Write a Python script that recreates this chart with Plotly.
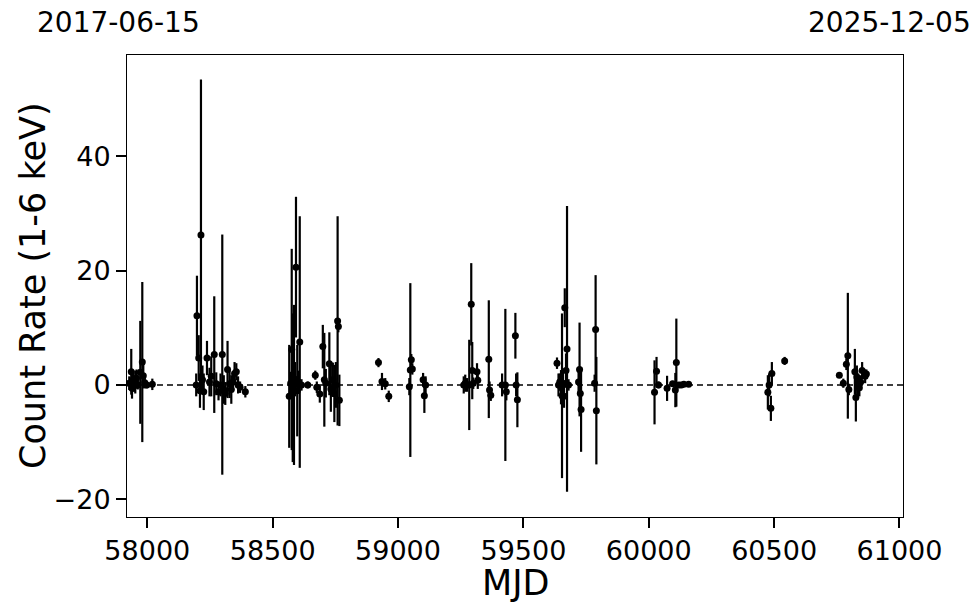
import plotly.graph_objects as go

mjd = [57928, 57936, 57939, 57943, 57947, 57952, 57957, 57962, 57972, 57980, 57984, 57990, 57998, 58020,
       58195, 58198, 58205, 58210, 58214, 58220, 58225, 58238, 58248, 58255, 58267, 58275, 58284, 58292,
       58299, 58305, 58311, 58320, 58328, 58335, 58342, 58348, 58355, 58362, 58370, 58391,
       58566, 58572, 58576, 58580, 58585, 58589, 58593, 58598, 58602, 58608, 58615, 58640, 58670, 58676,
       58688, 58700, 58706, 58712, 58726, 58732, 58740, 58746, 58752, 58759, 58762, 58766,
       58922, 58936, 58949, 58963, 59045, 59049, 59053, 59057, 59100, 59105, 59110,
       59262, 59268, 59275, 59284, 59292, 59296, 59300, 59315, 59318, 59362, 59365, 59370, 59415, 59428,
       59432, 59468, 59471, 59476,
       59634, 59640, 59645, 59650, 59654, 59658, 59662, 59665, 59670, 59674, 59680, 59720, 59724, 59727,
       59730, 59784, 59788, 59791,
       60023, 60031, 60039, 60073, 60095, 60106, 60110, 60120, 60130, 60140, 60159,
       60475, 60480, 60487, 60491, 60542,
       60760, 60776, 60788, 60794, 60798, 60822, 60826, 60830, 60835, 60840, 60845, 60851, 60863, 60868]

rate = [0.3, 2.3, -0.6, 0.9, -0.2, 0.5, 1.2, 0.0, 2.2, 4.0, 1.6, 0.4, 0.0, 0.1,
        0.0, 12.1, 4.7, -1.0, 26.2, 0.9, -1.2, 4.7, 0.5, 1.5, 5.3, 0.2, -1.2, 0.0,
        5.3, -0.8, -1.5, 2.7, 0.2, -0.8, 0.5, 2.0, 2.3, 0.0, -0.4, -1.2,
        -2.0, 0.3, 6.2, -0.5, 0.0, 1.0, 20.6, -1.0, 0.5, 7.5, 0.0, 0.0, 1.7, -0.4,
        -1.6, 6.7, 0.9, 0.3, 3.7, -0.7, 0.9, -1.5, 0.0, 11.2, 10.2, -2.7,
        3.9, 0.6, 0.2, -2.0, -0.3, 2.6, 4.4, 2.8, 0.9, -1.9, 0.0,
        0.0, 0.3, 0.0, 0.0, 14.1, 2.5, 0.3, 2.3, 0.8, 4.5, -0.9, -1.8, 0.0, 0.0,
        -1.2, 8.6, 0.0, -2.6,
        3.8, 0.0, 0.5, -0.4, -1.9, 0.3, -2.0, 13.5, 2.5, 6.3, 0.0, 0.5, 2.7, -1.5,
        -4.3, 0.3, 9.7, -4.5,
        -1.3, 2.4, 0.0, -0.6, 0.2, -0.9, 3.9, 0.0, 0.0, 0.1, 0.1,
        -1.3, 0.0, -4.1, 2.0, 4.2,
        1.7, 0.3, 3.6, 5.1, -0.8, 2.3, -2.2, 1.4, 0.0, -0.5, 0.5, 2.5, 1.5, 1.9]

err = [1.2, 4.0, 1.8, 1.2, 1.0, 2.0, 1.5, 0.8, 9.0, 14.0, 2.2, 1.0, 0.6, 1.0,
       2.0, 7.0, 4.0, 3.0, 27.2, 2.5, 3.2, 3.0, 2.5, 3.5, 10.2, 2.0, 1.5, 2.0,
       21.0, 2.5, 2.0, 5.0, 2.5, 2.5, 1.5, 2.0, 1.5, 1.5, 1.0, 1.0,
       9.0, 2.0, 17.6, 13.0, 14.0, 3.0, 12.3, 8.0, 2.0, 22.0, 1.0, 0.6, 0.8, 1.0,
       1.5, 3.8, 8.2, 2.5, 5.5, 4.0, 3.0, 5.0, 4.0, 18.3, 1.0, 4.5,
       0.8, 1.5, 1.0, 1.0, 1.5, 15.2, 1.0, 1.0, 1.2, 3.0, 1.5,
       1.5, 1.5, 1.2, 7.9, 7.2, 5.0, 1.0, 1.5, 1.5, 10.3, 1.5, 1.0, 2.0, 13.3,
       1.5, 4.0, 2.0, 4.8,
       1.0, 2.0, 1.5, 3.0, 14.4, 2.0, 2.0, 3.4, 3.0, 25.0, 1.0, 2.0, 8.2, 2.0,
       7.4, 1.5, 9.5, 9.4,
       5.6, 2.5, 0.6, 2.2, 0.5, 3.0, 7.7, 0.5, 0.4, 0.4, 0.3,
       3.0, 2.0, 2.2, 2.0, 0.7,
       0.5, 0.8, 1.0, 11.0, 1.0, 4.0, 4.2, 2.0, 2.0, 1.5, 1.2, 1.5, 1.2, 0.8]

x_ticks = [58000, 58500, 59000, 59500, 60000, 60500, 61000]
y_ticks = [-20, 0, 20, 40]
x_range = [57919, 61014]
y_range = [-23.1, 57.7]
date_labels = ["2017-06-15", "2025-12-05"]
x_title = "MJD"
y_title = "Count Rate (1-6 keV)"

FONT = "DejaVu Sans"
W, H = 980, 613
L, T, R, B = 127, 55, 77, 96
PW, PH = W - L - R, H - T - B  # 776 x 462


def px_x(page_x):
    return (page_x - L) / PW


def px_y(page_y):
    return 1 - (page_y - T) / PH


fig = go.Figure()
fig.add_trace(go.Scatter(
    x=mjd, y=rate, mode="markers",
    marker=dict(color="black", size=7),
    error_y=dict(type="data", array=err, visible=True, color="black", thickness=2.2, width=0),
    showlegend=False,
))
fig.add_hline(y=0, line=dict(color="black", width=1.5, dash="6px,4px"))

axis_common = dict(ticks="outside", ticklen=10, tickwidth=2, tickcolor="black",
                   showline=True, linecolor="black", linewidth=1, mirror=True,
                   showgrid=False, zeroline=False, automargin=False,
                   tickfont=dict(size=27, family=FONT, color="black"))

fig.update_layout(
    template="none",
    width=W, height=H,
    margin=dict(l=L, r=R, t=T, b=B, pad=0),
    paper_bgcolor="white", plot_bgcolor="white",
    font=dict(family=FONT, color="black", size=26),
    xaxis=dict(range=x_range, tickvals=x_ticks, ticktext=[str(v) for v in x_ticks], **axis_common),
    yaxis=dict(range=y_range, tickvals=y_ticks, **axis_common),
    annotations=[
        dict(text=date_labels[0], xref="paper", yref="paper", x=px_x(118), y=px_y(22),
             xanchor="center", yanchor="middle", showarrow=False, font=dict(size=28, family=FONT)),
        dict(text=date_labels[1], xref="paper", yref="paper", x=px_x(889), y=px_y(22),
             xanchor="center", yanchor="middle", showarrow=False, font=dict(size=28, family=FONT)),
        dict(text=y_title, xref="paper", yref="paper", x=px_x(33), y=0.5, textangle=-90,
             xanchor="center", yanchor="middle", showarrow=False, font=dict(size=35, family=FONT)),
        dict(text=x_title, xref="paper", yref="paper", x=0.5, y=px_y(583),
             xanchor="center", yanchor="middle", showarrow=False, font=dict(size=35, family=FONT)),
    ],
)

fig.write_html("out.html", config={"displayModeBar": False},
               post_script="document.body.style.margin='0px';document.body.style.padding='0px';")
